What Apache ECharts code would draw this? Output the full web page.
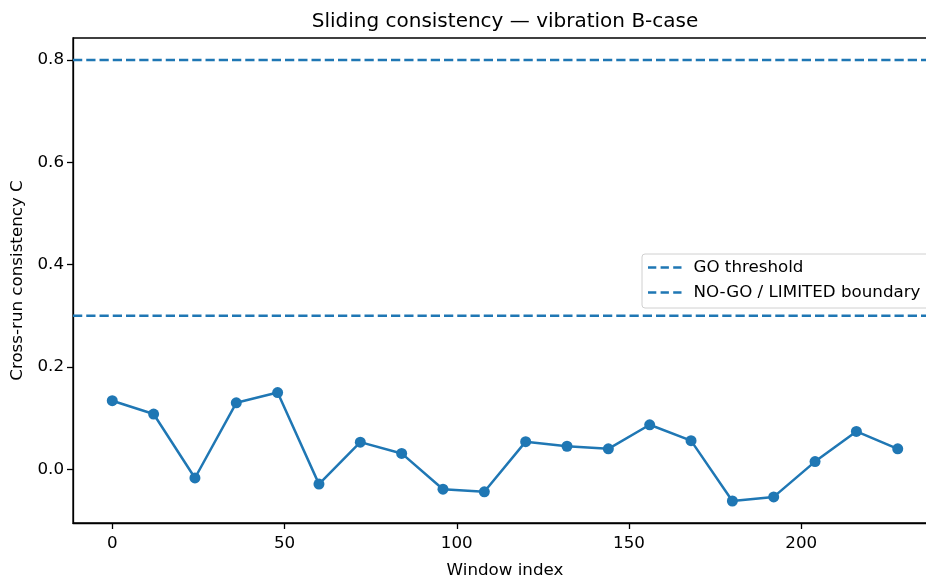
<!DOCTYPE html>
<html>
<head>
<meta charset="utf-8">
<script src="https://cdn.jsdelivr.net/npm/echarts@6/dist/echarts.min.js"></script>
<style>html,body{margin:0;padding:0;background:#fff;}#chart{width:926px;height:577px;}</style>
</head>
<body>
<div id="chart"></div>
<script>
// Data
const windowIndex = [0, 12, 24, 36, 48, 60, 72, 84, 96, 108, 120, 132, 144, 156, 168, 180, 192, 204, 216, 228];
const consistency = [0.134, 0.108, -0.017, 0.130, 0.150, -0.029, 0.053, 0.031, -0.039, -0.044,
                     0.054, 0.045, 0.040, 0.087, 0.056, -0.062, -0.054, 0.015, 0.074, 0.040];
const goThreshold = 0.8;
const noGoBoundary = 0.3;
const xTicks = [0, 50, 100, 150, 200];
const yTicks = [0.0, 0.2, 0.4, 0.6, 0.8];
const xRange = [-11.4, 239.4];
const yRange = [-0.105, 0.843];
const titleText = 'Sliding consistency — vibration B-case';
const xName = 'Window index';
const yName = 'Cross-run consistency C';
const legendNames = ['GO threshold', 'NO-GO / LIMITED boundary'];

const blue = '#1f77b4';
const font = 'DejaVu Sans';
const dash = [9.25, 4];
const dashIcon = 'path://M0,0h8.3v2.5h-8.3z M12.6,0h8.3v2.5h-8.3z M25.2,0h8.3v2.5h-8.3z';

const chart = echarts.init(document.getElementById('chart'), null, {renderer: 'canvas'});
chart.setOption({
  animation: false,
  backgroundColor: '#fff',
  textStyle: {fontFamily: font},
  title: {
    text: titleText,
    left: 505,
    top: 12,
    padding: 0,
    textAlign: 'center',
    textStyle: {fontFamily: font, fontSize: 20, fontWeight: 'normal', color: '#000'}
  },
  grid: {left: 73, top: 38, width: 864, height: 485, outerBoundsMode: 'none', containLabel: false,
         show: true, borderColor: '#000', borderWidth: 1.3, backgroundColor: 'transparent'},
  legend: {
    data: legendNames.map(n => ({name: n, icon: dashIcon})),
    orient: 'vertical',
    left: 642,
    top: 254,
    padding: [5, 10, 7, 6],
    itemWidth: 33.5,
    itemHeight: 2.5,
    itemGap: 8,
    borderColor: '#d0d0d0',
    borderWidth: 1,
    borderRadius: 3,
    backgroundColor: 'rgba(255,255,255,0.8)',
    textStyle: {fontFamily: font, fontSize: 16.7, color: '#000', padding: [0, 0, 0, 7]}
  },
  xAxis: {
    type: 'value',
    min: xRange[0],
    max: xRange[1],
    name: xName,
    nameLocation: 'middle',
    nameGap: 39,
    nameTextStyle: {fontFamily: font, fontSize: 16.7, color: '#000'},
    axisLine: {show: true, onZero: false, lineStyle: {color: '#000', width: 1.3}},
    axisTick: {show: true, length: 6, lineStyle: {color: '#000', width: 1.3}, customValues: xTicks},
    axisLabel: {fontFamily: font, fontSize: 16.7, color: '#000', margin: 12, customValues: xTicks, formatter: v => String(v)},
    splitLine: {show: false}
  },
  yAxis: {
    type: 'value',
    min: yRange[0],
    max: yRange[1],
    name: yName,
    nameLocation: 'middle',
    nameGap: 46,
    nameTextStyle: {fontFamily: font, fontSize: 16.7, color: '#000'},
    axisLine: {show: true, onZero: false, lineStyle: {color: '#000', width: 1.3}},
    axisTick: {show: true, length: 6, lineStyle: {color: '#000', width: 1.3}, customValues: yTicks},
    axisLabel: {fontFamily: font, fontSize: 16.7, color: '#000', margin: 9, customValues: yTicks, formatter: v => v.toFixed(1)},
    splitLine: {show: false}
  },
  series: [
    {
      name: 'C',
      type: 'line',
      data: windowIndex.map((x, i) => [x, consistency[i]]),
      symbol: 'circle',
      symbolSize: 11,
      itemStyle: {color: blue},
      lineStyle: {color: blue, width: 2.5},
      z: 3
    },
    {
      name: legendNames[0],
      type: 'line',
      data: [[xRange[0], goThreshold], [xRange[1], goThreshold]],
      symbol: 'none',
      lineStyle: {color: blue, width: 2.5, type: dash},
      itemStyle: {color: blue},
      z: 2
    },
    {
      name: legendNames[1],
      type: 'line',
      data: [[xRange[0], noGoBoundary], [xRange[1], noGoBoundary]],
      symbol: 'none',
      lineStyle: {color: blue, width: 2.5, type: dash},
      itemStyle: {color: blue},
      z: 2
    }
  ]
});
</script>
</body>
</html>
